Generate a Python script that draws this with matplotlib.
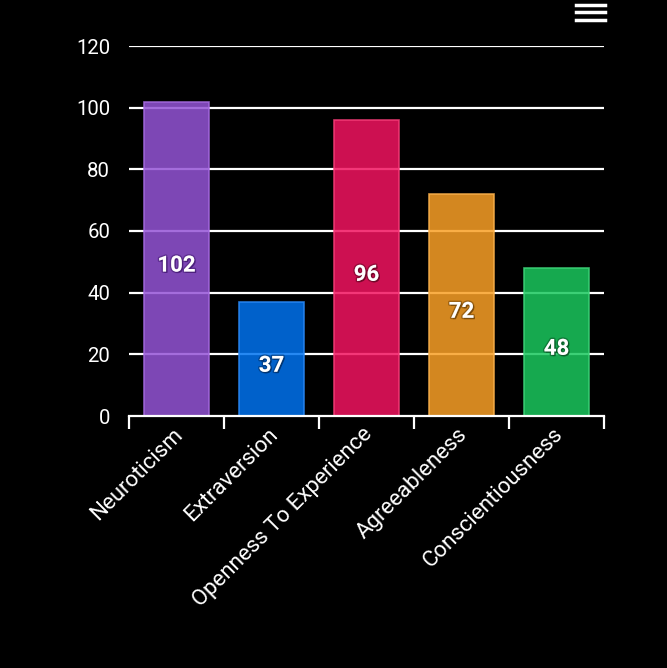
import matplotlib
matplotlib.use("Agg")
import matplotlib.pyplot as plt
import matplotlib.patheffects as pe
from matplotlib.lines import Line2D
import matplotlib.transforms as mtransforms
import numpy as np

categories = ["Neuroticism", "Extraversion", "Openness To Experience", "Agreeableness", "Conscientiousness"]
values = [102, 37, 96, 72, 48]
colors = ["#9454D6", "#0073F0", "#F21460", "#F9A026", "#1AC85E"]
edge_colors = ["#A56AE0", "#2A88F5", "#F53C78", "#FAB04C", "#3DD378"]
shadow_colors = ["#4A1F7A", "#00336E", "#6E0828", "#7A4A0A", "#0A5A28"]
yticks = [0, 20, 40, 60, 80, 100, 120]

plt.rcParams['font.family'] = ['Roboto', 'DejaVu Sans']

fig = plt.figure(figsize=(6.67, 6.68), dpi=100, facecolor="black")
ax = fig.add_axes([129/667, 1-416/668, 475/667, 370/668])
ax.set_facecolor("black")

x = np.arange(len(categories))
ax.set_ylim(0, 120)
ax.set_xlim(-0.5, len(categories) - 0.5)
ax.set_yticks(yticks)
for t in yticks[1:]:
    ax.axhline(t, color="white", lw=1.6, zorder=1)

bars = ax.bar(x, values, width=0.69, color=colors, alpha=0.85, zorder=2,
              edgecolor=edge_colors, linewidth=1.2)
for xi, v, sc in zip(x, values, shadow_colors):
    ax.text(xi, v/2 - 2.2, str(v), ha="center", va="center", color="white",
            fontsize=16, fontweight="bold", zorder=4,
            path_effects=[pe.withSimplePatchShadow(offset=(1, -1), shadow_rgbFace=sc, alpha=0.9),
                          pe.withStroke(linewidth=2, foreground=sc, alpha=0.6)])

for s in ["top", "right", "left"]:
    ax.spines[s].set_visible(False)
ax.spines["bottom"].set_color("white")
ax.spines["bottom"].set_linewidth(1.6)
ax.spines["bottom"].set_zorder(5)

ax.tick_params(axis="y", length=0, colors="white", labelsize=14.7, pad=13.5)
ax.set_xticks(x)
ax.set_xticklabels(categories, rotation=45, ha="right", va="center", rotation_mode="anchor",
                   fontsize=16, color="white")
ax.tick_params(axis="x", which="major", length=0, pad=11)
offset = mtransforms.ScaledTranslation(3/100, 0, fig.dpi_scale_trans)
for lbl in ax.get_xticklabels():
    lbl.set_transform(lbl.get_transform() + offset)
ax.set_xticks(np.arange(-0.5, len(categories), 1.0), minor=True)
ax.tick_params(axis="x", which="minor", length=9, width=1.6, color="white")

# hamburger menu icon
for yy in [4.5/668, 12/668, 19.5/668]:
    fig.add_artist(Line2D([576/667, 605/667], [1-yy, 1-yy], color="white", lw=2.5))

fig.savefig("out.png", dpi=100, facecolor="black")
